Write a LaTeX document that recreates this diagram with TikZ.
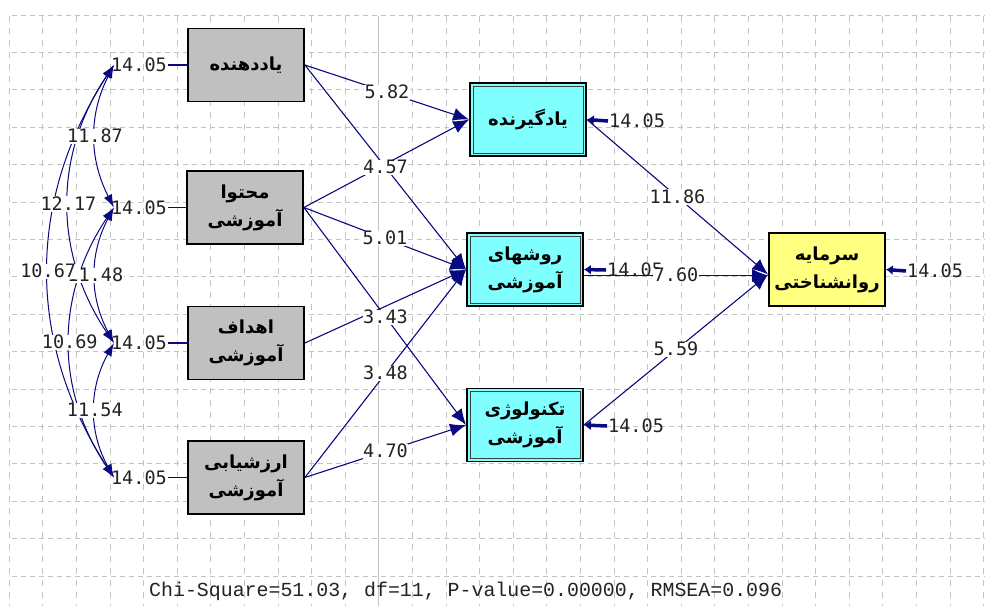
\documentclass[tikz,border=0pt]{standalone}
\usepackage{fontspec}
\TeXXeTstate=1
\newfontfamily\fafont[Script=Arabic]{DejaVu Sans}
\newfontfamily\numfont{DejaVu Sans Mono}
\newfontfamily\chifont{Liberation Mono}
\usetikzlibrary{arrows.meta}
\definecolor{pathc}{RGB}{10,10,128}
\definecolor{gridc}{RGB}{195,195,195}
\definecolor{boxgray}{RGB}{192,192,192}
\definecolor{boxcyan}{RGB}{128,255,255}
\definecolor{boxyellow}{RGB}{255,255,128}
\definecolor{txtc}{RGB}{35,35,35}
\newcommand{\rtl}[1]{\beginR#1\endR}
\begin{document}
\begin{tikzpicture}[x=1pt,y=-1pt,
  hgrid/.style={gridc, line width=0.8pt, dash pattern=on 5pt off 4pt},
  vgrid/.style={gridc, line width=0.8pt, dash pattern=on 6pt off 6pt},
  varbox/.style={draw=black, line width=1.8pt, minimum width=116pt, minimum height=73pt, inner sep=0pt, align=center, font=\fafont\bfseries\fontsize{18}{28}\selectfont},
  exo/.style={varbox, fill=boxgray},
  endo/.style={varbox, fill=boxcyan},
  fin/.style={varbox, fill=boxyellow},
  lbl/.style={fill=white, inner sep=0.6pt, text=txtc, font=\numfont\fontsize{18.5}{20}\selectfont, text height=13pt, text depth=1pt},
  errtxt/.style={inner sep=1pt, text=txtc, font=\numfont\fontsize{18.5}{20}\selectfont},
  pth/.style={pathc, line width=1.1pt, -{Latex[length=16pt,width=13pt]}},
  cov/.style={pathc, line width=1pt, {Latex[length=13pt,width=9pt]}-{Latex[length=13pt,width=9pt]}},
  errarr/.style={pathc, line width=3.5pt, -{Latex[length=7pt,width=10pt]}},
  errln/.style={pathc, line width=1.1pt},
]
\useasboundingbox (0,0) rectangle (985,606);
\fill[white] (0,0) rectangle (985,606);
% grid
\foreach \k in {0,...,15} \draw[hgrid] (12,{15+37.4*\k}) -- (985,{15+37.4*\k});
\foreach \k in {0,...,29} \draw[vgrid] ({9.2+33.6*\k},16) -- ({9.2+33.6*\k},606);
\draw[gridc, line width=1pt] (378.8,16) -- (378.8,606);

% boxes
\node[exo] (b1) at (246,65) {\rtl{یاددهنده}};
\node[exo] (b2) at (245,207.5) {\rtl{محتوا}\\\rtl{آموزشی}};
\node[exo] (b3) at (246,343) {\rtl{اهداف}\\\rtl{آموزشی}};
\node[exo] (b4) at (246,477.5) {\rtl{ارزشیابی}\\\rtl{آموزشی}};
\node[endo] (b5) at (528,119.5) {\rtl{یادگیرنده}};
\node[endo] (b6) at (525,269.5) {\rtl{روشهای}\\\rtl{آموزشی}};
\node[endo] (b7) at (525,425) {\rtl{تکنولوژی}\\\rtl{آموزشی}};
\node[fin] (b8) at (827,269.5) {\rtl{سرمایه}\\\rtl{روانشناختی}};
\foreach \n in {b5,b6,b7}
  \draw[line width=0.8pt, black!75] ([shift={(4pt,-4pt)}]\n.north west) rectangle ([shift={(-4pt,4pt)}]\n.south east);

% error terms
\node[errtxt, anchor=east] (e1) at (168,65) {14.05};
\node[errtxt, anchor=east] (e2) at (168,207.5) {14.05};
\node[errtxt, anchor=east] (e3) at (168,343) {14.05};
\node[errtxt, anchor=east] (e4) at (168,477.5) {14.05};
\draw[errln] (e1.east) -- (b1.west);
\draw[errln] (e2.east) -- (b2.west);
\draw[errln] (e3.east) -- (b3.west);
\draw[errln] (e4.east) -- (b4.west);

\node[errtxt, anchor=west] (e5) at (608,121) {14.05};
\node[errtxt, anchor=west] (e6) at (606,270) {14.05};
\node[errtxt, anchor=west] (e7) at (607,426) {14.05};
\node[errtxt, anchor=west] (e8) at (906,271) {14.05};
\draw[errarr] (e5.west) -- (b5.east);
\draw[errarr] (e6.west) -- (b6.east);
\draw[errarr] (e7.west) -- (b7.east);
\draw[errarr] (e8.west) -- (b8.east);

% covariances
\draw[cov] ([xshift=4pt]e1.west) to[out=243,in=117] ([xshift=4pt]e2.west);
\draw[cov] ([xshift=4pt]e1.west) to[out=236,in=124] ([xshift=4pt]e3.west);
\draw[cov] ([xshift=4pt]e1.west) to[out=237,in=123] ([xshift=4pt]e4.west);
\draw[cov] ([xshift=4pt]e2.west) to[out=242,in=118] ([xshift=4pt]e3.west);
\draw[cov] ([xshift=4pt]e2.west) to[out=236,in=124] ([xshift=4pt]e4.west);
\draw[cov] ([xshift=4pt]e3.west) to[out=241,in=119] ([xshift=4pt]e4.west);
\path ([xshift=4pt]e1.west) to[out=243,in=117] node[lbl]{11.87} ([xshift=4pt]e2.west);
\path ([xshift=4pt]e1.west) to[out=236,in=124] node[lbl]{12.17} ([xshift=4pt]e3.west);
\path ([xshift=4pt]e2.west) to[out=242,in=118] node[lbl]{11.48} ([xshift=4pt]e3.west);
\path ([xshift=4pt]e1.west) to[out=237,in=123] node[lbl]{10.67} ([xshift=4pt]e4.west);
\path ([xshift=4pt]e2.west) to[out=236,in=124] node[lbl]{10.69} ([xshift=4pt]e4.west);
\path ([xshift=4pt]e3.west) to[out=241,in=119] node[lbl]{11.54} ([xshift=4pt]e4.west);

% structural paths
\draw[pth] (b1.east) -- (b5.west);
\draw[pth] (b1.east) -- (b6.west);
\draw[pth] (b2.east) -- (b5.west);
\draw[pth] (b2.east) -- (b6.west);
\draw[pth] (b2.east) -- (b7.west);
\draw[pth] (b3.east) -- (b6.west);
\draw[pth] (b4.east) -- (b6.west);
\draw[pth] (b4.east) -- (b7.west);
\draw[pth] (b5.east) -- ([yshift=-5pt]b8.west);
\draw[pth] ([yshift=-6pt]b6.east) -- ([yshift=-6pt]b8.west);
\draw[pth] (b7.east) -- ([yshift=-5pt]b8.west);
\path (b1.east) -- node[lbl]{5.82} (b5.west);
\path (b1.east) -- node[lbl]{4.57} (b6.west);
\path (b2.east) -- node[lbl]{5.01} (b6.west);
\path (b3.east) -- node[lbl, yshift=-11pt]{3.43} (b6.west);
\path (b4.east) -- node[lbl]{3.48} (b6.west);
\path (b4.east) -- node[lbl]{4.70} (b7.west);
\path (b5.east) -- node[lbl]{11.86} ([yshift=-5pt]b8.west);
\path ([yshift=-6pt]b6.east) -- node[lbl, pos=0.5]{7.60} ([yshift=-6pt]b8.west);
\path (b7.east) -- node[lbl]{5.59} ([yshift=-5pt]b8.west);

\node[font=\chifont\fontsize{19.9}{22}\selectfont, text=txtc, anchor=west, inner sep=0pt] (chi) at (149,591) {Chi-Square=51.03, df=11, P-value=0.00000, RMSEA=0.096};
\end{tikzpicture}
\end{document}
